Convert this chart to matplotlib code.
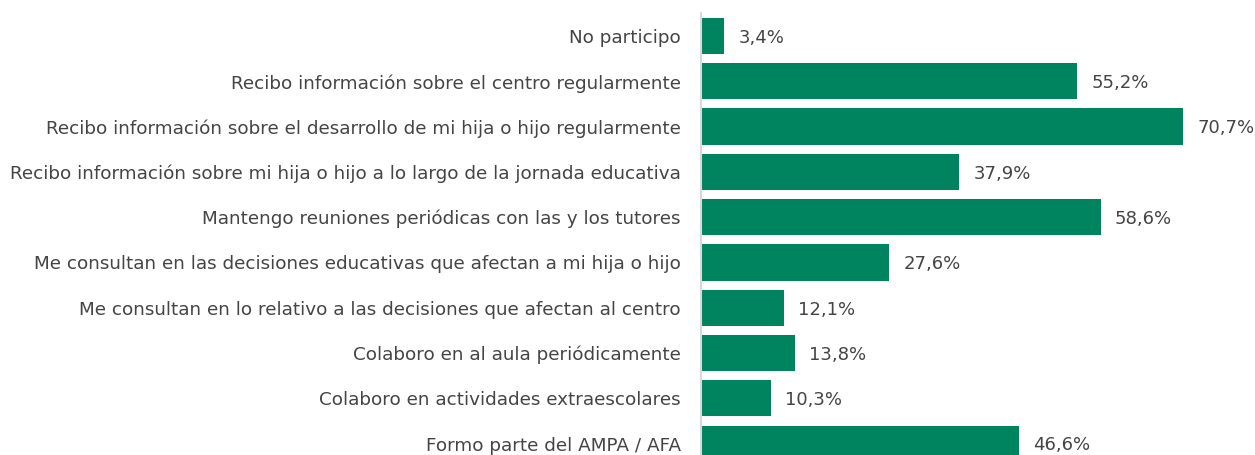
import matplotlib
matplotlib.use("Agg")
import matplotlib.pyplot as plt

categories = [
    "No participo",
    "Recibo información sobre el centro regularmente",
    "Recibo información sobre el desarrollo de mi hija o hijo regularmente",
    "Recibo información sobre mi hija o hijo a lo largo de la jornada educativa",
    "Mantengo reuniones periódicas con las y los tutores",
    "Me consultan en las decisiones educativas que afectan a mi hija o hijo",
    "Me consultan en lo relativo a las decisiones que afectan al centro",
    "Colaboro en al aula periódicamente",
    "Colaboro en actividades extraescolares",
    "Formo parte del AMPA / AFA",
]
values = [3.4, 55.2, 70.7, 37.9, 58.6, 27.6, 12.1, 13.8, 10.3, 46.6]

W, H, DPI = 1255, 455, 100
fig = plt.figure(figsize=(W / DPI, H / DPI), dpi=DPI)

px_per_unit = 6.82
x0_px = 701
xmax = 80
top_px = 13.35
ax = fig.add_axes([x0_px / W, 0, xmax * px_per_unit / W, (H - top_px) / H])

bar_color = "#00845F"
text_color = "#444444"
font = ["DejaVu Sans"]

y = list(range(len(categories)))
ax.barh(y, values, height=0.8, color=bar_color)
ax.set_xlim(0, xmax)
ax.set_ylim(9.25, -0.5)

for yi, v in zip(y, values):
    ax.text(v + 14 / px_per_unit, yi + 0.04, f"{v:.1f}%".replace(".", ","),
            va="center", ha="left", fontsize=13, color=text_color, family=font)

ax.set_yticks(y)
ax.set_yticklabels(categories, fontsize=13.2, color=text_color, family=font)
ax.tick_params(axis="y", length=0, pad=14.4)
ax.set_xticks([])
for s in ["top", "right", "bottom"]:
    ax.spines[s].set_visible(False)
ax.spines["left"].set_color("#d9d9d9")
ax.spines["left"].set_linewidth(1.5)

fig.savefig("out.png", dpi=DPI)
